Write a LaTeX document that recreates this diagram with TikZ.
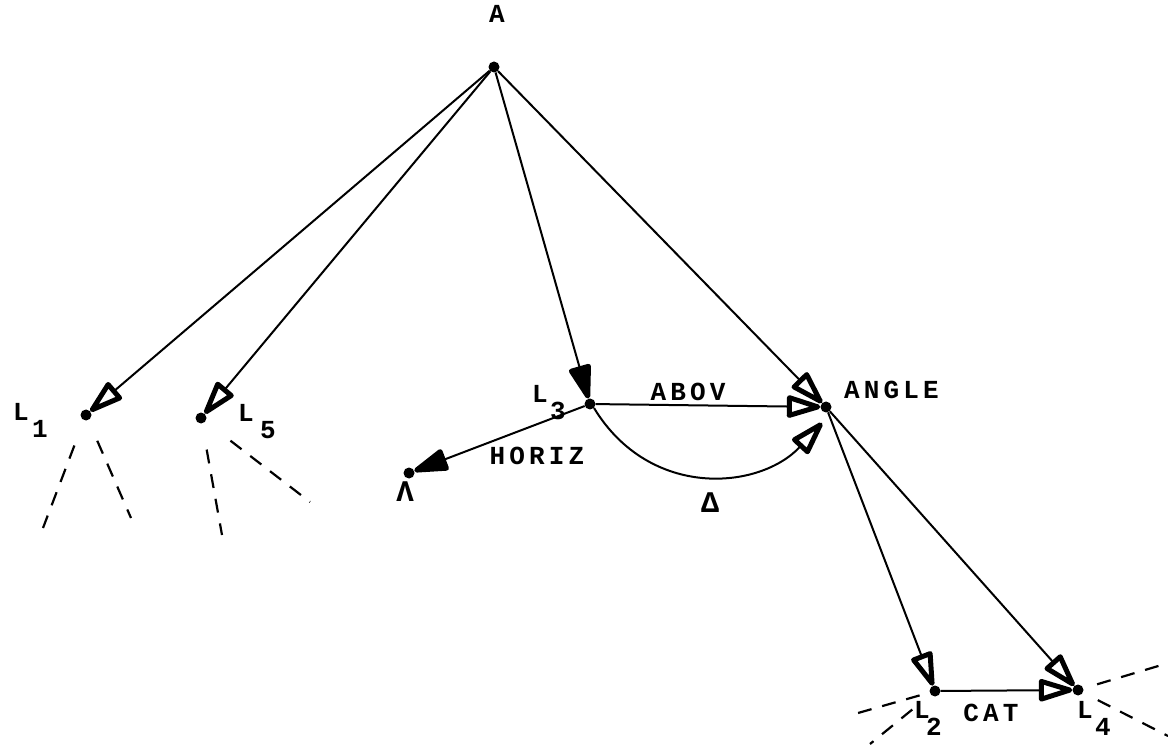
\documentclass[tikz,border=0pt]{standalone}
\usepackage{fontspec}
\setmonofont{Liberation Mono}[LetterSpace=16]
\usetikzlibrary{arrows.meta,calc}
\begin{document}
\begin{tikzpicture}[x=1pt,y=-1pt,
  pt/.style={circle,fill=black,inner sep=0pt,minimum size=11pt},
  lbl/.style={font=\fontsize{26}{26}\selectfont\ttfamily\bfseries,inner sep=0pt},
  sub/.style={font=\fontsize{26}{26}\selectfont\ttfamily\bfseries,inner sep=0pt},
  greek/.style={font=\fontsize{30}{30}\selectfont\ttfamily\bfseries,inner sep=0pt},
  link/.style={line width=2pt,
    -{Triangle[length=40pt,width=23pt,fill=white,line width=5pt,round]}},
  solidlink/.style={line width=2pt,
    -{Triangle[length=40pt,width=23pt,fill=black,line width=5pt,round]}},
  tail/.style={line width=2.2pt,dash pattern=on 14pt off 11pt}]
\useasboundingbox (0,0) rectangle (1168,751);
\fill[white] (0,0) rectangle (1168,751);

% points
\node[pt] (A) at (494,67) {};
\node[pt] (L1) at (86,415) {};
\node[pt] (L5) at (201,418) {};
\node[pt] (L3) at (590,404) {};
\node[pt] (ANG) at (826,407) {};
\node[pt] (LAM) at (409,473) {};
\node[pt] (L2) at (935,691) {};
\node[pt] (L4) at (1078,690) {};

% names
\node[lbl] (tA) at (497,14) {A};
\node[lbl] (tL1) at (21,412) {L};
\node[sub] (sL1) at (40,429) {1};
\node[lbl] (tL5) at (246,413) {L};
\node[sub] (sL5) at (268,430) {5};
\node[lbl] (tL3) at (540,394) {L};
\node[sub] (sL3) at (558,411) {3};
\node[lbl,anchor=west] (tANG) at (844,390) {ANGLE};
\node[greek] (tLAM) at (405,492) {Λ};
\node[lbl] (tL2) at (922,710) {L};
\node[sub] (sL2) at (934,727) {2};
\node[lbl] (tL4) at (1085,710) {L};
\node[sub] (sL4) at (1103,727) {4};

% edge labels
\node[lbl] (tABOV) at (688,392) {ABOV};
\node[lbl] (tHOR) at (537,456) {HORIZ};
\node[greek] (tDEL) at (710,503) {Δ};
\node[lbl] (tCAT) at (991,713) {CAT};

% arrows from A
\draw[link] (A) -- (L1);
\draw[link] (A) -- (L5);
\draw[solidlink] (A) -- (L3);
\draw[link] (A) -- (ANG);
% relations at L3
\draw[link] (L3) -- (ANG);
\draw[solidlink] (L3) -- (LAM);
\draw[link] (L3.south east) .. controls (650,500) and (760,490) .. ($(ANG)+(-4,16)$);
% below ANGLE
\draw[link] (ANG) -- (L2);
\draw[link] (ANG) -- (L4);
\draw[link] (L2) -- (L4);

% unexpanded continuations
\coordinate (d1) at (43,528);
\coordinate (d2) at (131,518);
\coordinate (d3) at (222,535);
\coordinate (d4) at (310,502);
\coordinate (d5) at (858,713);
\coordinate (d6) at (870,744);
\coordinate (d7) at (1165,664);
\coordinate (d8) at (1168,736);
\draw[tail] ($(L1)!0.27!(d1)$) -- (d1);
\draw[tail] ($(L1)!0.25!(d2)$) -- (d2);
\draw[tail] ($(L5)!0.27!(d3)$) -- (d3);
\draw[tail] ($(L5)!0.27!(d4)$) -- (d4);
\draw[tail] ($(L2)!0.2!(d5)$) -- (d5);
\draw[tail] ($(L2)!0.35!(d6)$) -- (d6);
\draw[tail] ($(L4)!0.22!(d7)$) -- (d7);
\draw[tail] ($(L4)!0.22!(d8)$) -- (d8);
\end{tikzpicture}
\end{document}
